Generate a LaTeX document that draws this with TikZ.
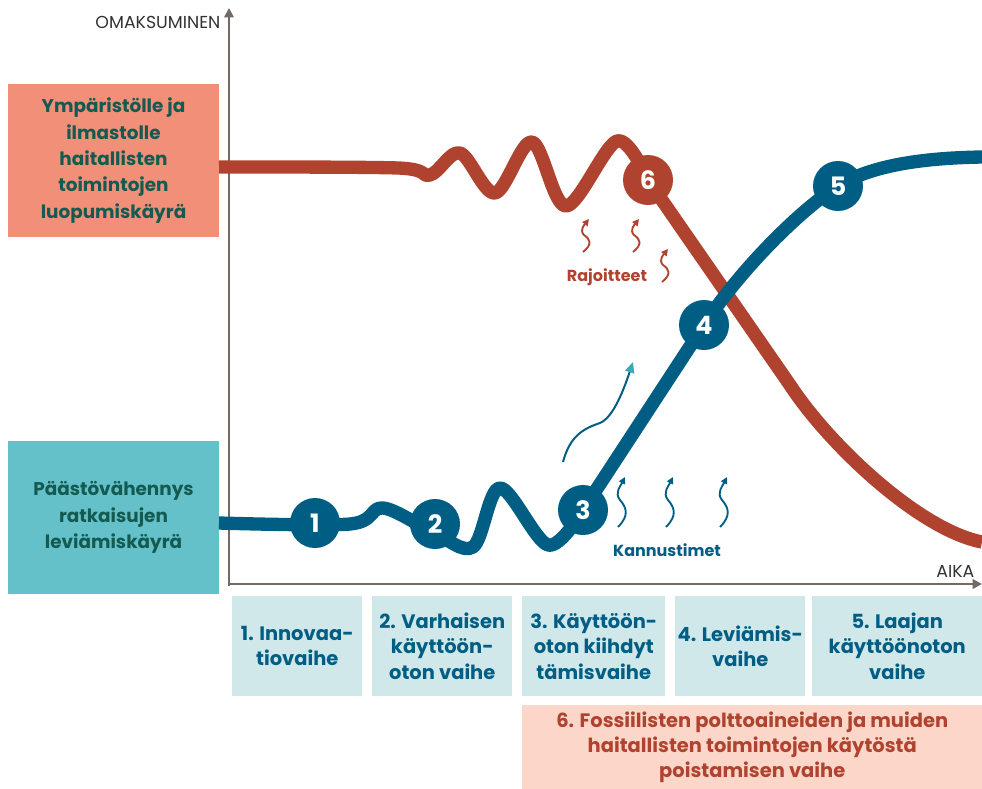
\documentclass[tikz,border=0pt]{standalone}
\usepackage{fontspec}
\setmainfont{Poppins}
\usetikzlibrary{arrows.meta}
\definecolor{harmred}{HTML}{B0432F}
\definecolor{solblue}{HTML}{005E84}
\definecolor{salmon}{HTML}{F28F79}
\definecolor{tealbox}{HTML}{64C1CA}
\definecolor{boxgreen}{HTML}{145A50}
\definecolor{stagefill}{HTML}{D0E8EA}
\definecolor{peach}{HTML}{FBD6C9}
\definecolor{axisgray}{HTML}{736A65}
\definecolor{pushteal}{HTML}{3AAAB8}
\tikzset{
  curvebox/.style={minimum width=158.25pt, minimum height=114.75pt, align=center,
    text=boxgreen, font=\bfseries\fontsize{13.8}{19.8}\selectfont},
  stagebox/.style={anchor=north west, fill=stagefill, minimum height=75pt, align=center,
    text=solblue, font=\bfseries\fontsize{14.6}{19}\selectfont, inner sep=0pt},
  axis/.style={axisgray, line width=1.8pt, -{Triangle[length=7pt, width=7pt]}},
  axislabel/.style={text=black!80, font=\fontsize{13}{13}\selectfont, inner sep=1pt},
  redcurve/.style={harmred, line width=10pt, line join=round},
  bluecurve/.style={solblue, line width=10pt, line join=round},
  numcirc/.style={circle, minimum size=37.5pt, inner sep=0pt, text=white,
    font=\bfseries\fontsize{19}{19}\selectfont},
  squig/.style={line width=1.4pt, -{Triangle[length=5pt, width=5pt]}},
  forcelabel/.style={font=\bfseries\fontsize{12}{12}\selectfont}
}
\begin{document}
\begin{tikzpicture}[x=0.75pt, y=-0.75pt]
\useasboundingbox (0,0) rectangle (982,789);
\node[curvebox, fill=salmon] (harm) at (113.5,160.5) {Ympäristölle ja\\ilmastolle\\haitallisten\\toimintojen\\luopumiskäyrä};
\node[curvebox, fill=tealbox] (sol) at (113.5,517.5) {Päästövähennys\\ratkaisujen\\leviämiskäyrä};
\coordinate (origin) at (229,584);
\coordinate (ytop) at (229,8);
\coordinate (xend) at (982,584);
\draw[axis] (origin |- 0,586) -- (ytop);
\draw[axis] (origin) -- (xend);
\node[axislabel, anchor=east] (ylab) at (222,22) {OMAKSUMINEN};
\node[axislabel, anchor=south east] (xlab) at (976,579) {AIKA};
\coordinate (p1) at (315,523);
\coordinate (p2) at (435,524);
\coordinate (p3) at (583,510);
\coordinate (p4) at (704,325);
\coordinate (p5) at (838,186);
\coordinate (p6) at (648,180);
\draw[redcurve] plot[smooth, tension=0.55] coordinates {(219,167) (398,168) (430,175) (460,153) (495,193) (532,142) (566,206) (617,141) (648,180)}
  -- (790,385) .. controls (830,446) and (920,530) .. (982,542);
\draw[bluecurve] plot[smooth, tension=0.55] coordinates {(219,523) (350,524) (383,508) (433,532) (473,547) (500,488) (548,545) (583,510)}
  -- (p4) .. controls (740,270) and (800,210) .. (p5) .. controls (870,166) and (920,158) .. (982,157);
\node[numcirc, fill=solblue] (n1) at (p1) {1};
\node[numcirc, fill=solblue] (n2) at (p2) {2};
\node[numcirc, fill=solblue] (n3) at (p3) {3};
\node[numcirc, fill=solblue] (n4) at (p4) {4};
\node[numcirc, fill=solblue] (n5) at (p5) {5};
\node[numcirc, fill=harmred] (n6) at (p6) {6};
\draw[solblue, line width=1.5pt, -{Triangle[length=8pt, width=7pt, color=pushteal]}] (563,462) .. controls (570,435) and (585,428) .. (600,423) .. controls (612,418) and (622,395) .. (633,362);
\foreach \sx/\sy in {618/527, 666/527, 720/527}
  \draw[squig, solblue] (\sx,\sy) .. controls (\sx+12,\sy-12) and (\sx+8,\sy-20) .. (\sx+2,\sy-27) .. controls (\sx-4,\sy-34) and (\sx+3,\sy-42) .. (\sx+7,\sy-50);
\foreach \sx/\sy in {583/252, 633/252, 662/282}
  \draw[squig, harmred] (\sx,\sy) .. controls (\sx+10,\sy-8) and (\sx+7,\sy-13) .. (\sx+1,\sy-17) .. controls (\sx-4,\sy-22) and (\sx+2,\sy-28) .. (\sx+6,\sy-33);
\node[forcelabel, text=harmred] (limits) at (607,277) {Rajoitteet};
\node[forcelabel, text=solblue] (drivers) at (667,550) {Kannustimet};
\node[stagebox, minimum width=97.5pt] (s1) at (232,596) {1. Innovaa-\\tiovaihe};
\node[stagebox, minimum width=105pt] (s2) at (372,596) {2. Varhaisen\\käyttöön-\\oton vaihe};
\node[stagebox, minimum width=107.25pt] (s3) at (522,596) {3. Käyttöön-\\oton kiihdyt\\tämisvaihe};
\node[stagebox, minimum width=97.5pt] (s4) at (675,596) {4. Leviämis-\\vaihe};
\node[stagebox, minimum width=127.5pt] (s5) at (812,596) {5. Laajan\\käyttöönoton\\vaihe};
\node[stagebox, fill=peach, text=harmred, minimum width=345pt, minimum height=63pt] (s6) at (522,705) {6. Fossiilisten polttoaineiden ja muiden\\haitallisten toimintojen käytöstä\\poistamisen vaihe};
\end{tikzpicture}
\end{document}
